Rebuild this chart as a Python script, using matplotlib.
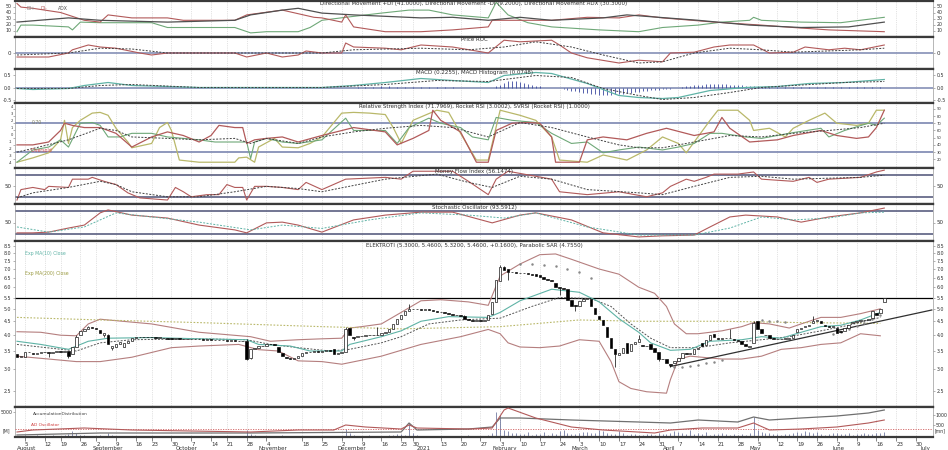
import numpy as np
import pandas as pd
import matplotlib
matplotlib.use("Agg")
import matplotlib.pyplot as plt
from matplotlib.ticker import FixedLocator, FixedFormatter, NullLocator
import matplotlib.transforms as mtransforms

plt.rcParams['font.family'] = ['DejaVu Sans']

# ---------------- data ----------------
# weekdays without a session in the chart (holidays and days without trades)
no_session = ['2020-08-17', '2020-08-27', '2020-09-21', '2020-10-19', '2020-11-11', '2020-12-24',
              '2020-12-25', '2020-12-31', '2021-01-01', '2021-01-06']
all_days = pd.bdate_range('2020-08-03', '2021-07-07')
all_days = all_days[~all_days.isin(pd.to_datetime(no_session))]

opens = [3.40, 3.32, 3.34, 3.48, 3.45, 3.40, 3.44, 3.46, 3.47, 3.44, 3.46, 3.50, 3.48, 3.50, 3.40, 3.62,
         4.00, 4.15, 4.22, 4.28, 4.25, 4.18, 4.02, 4.00, 3.58, 3.62, 3.70, 3.62, 3.74, 3.82, 3.92,
         3.95, 3.94, 3.95, 3.93, 3.94, 3.92, 3.92, 3.90, 3.89, 3.88, 3.90, 3.88, 3.87, 3.88, 3.86,
         3.87, 3.86, 3.85, 3.86, 3.84, 3.85, 3.83, 3.84, 3.82, 3.83, 3.82, 3.80,
         3.80, 3.30, 3.55, 3.60, 3.64, 3.66, 3.70, 3.72, 3.62, 3.45, 3.34, 3.30, 3.26, 3.30, 3.36, 3.44,
         3.48, 3.47, 3.49, 3.48, 3.50, 3.52, 3.56, 3.42, 3.45, 3.48, 4.25, 3.95,
         3.94, 3.96, 3.98, 4.00, 3.99, 4.01, 4.02, 4.08, 4.12, 4.22, 4.40, 4.58, 4.75, 4.92, 5.00, 4.98,
         5.00, 4.96, 4.98, 4.95, 4.90, 4.88, 4.86, 4.82, 4.80, 4.76, 4.74, 4.72, 4.58, 4.56, 4.52, 4.54,
         4.50, 4.55, 4.78, 5.30, 6.35, 7.10, 7.00, 6.80, 6.85, 6.78, 6.75, 6.78, 6.72,
         6.70, 6.64, 6.52, 6.45, 6.40, 6.22, 6.02, 5.96, 5.90, 5.40, 5.15, 5.12, 5.32, 5.45, 5.42, 5.05,
         4.72, 4.55, 4.30, 3.90, 3.55, 3.38, 3.45, 3.75, 3.50, 3.70, 3.78, 3.68, 3.64, 3.72, 3.58, 3.46,
         3.28, 3.28, 3.14, 3.15, 3.22, 3.30, 3.45, 3.42, 3.42, 3.55, 3.75, 3.68, 3.85, 4.05, 3.92, 3.88,
         3.92, 3.90, 3.88, 3.85, 3.82, 3.72, 3.62, 3.75, 4.50, 4.20, 4.02, 4.00, 3.92, 3.88, 3.86, 3.88,
         3.88, 3.92, 4.10, 4.20, 4.28, 4.32, 4.42, 4.50, 4.52, 4.36, 4.32, 4.30, 4.26, 4.16, 4.15, 4.25,
         4.42, 4.46, 4.52, 4.55, 4.56, 4.62, 4.82, 4.82, 5.30]
closes = [3.32, 3.35, 3.48, 3.46, 3.40, 3.44, 3.46, 3.47, 3.44, 3.46, 3.50, 3.48, 3.50, 3.36, 3.62, 3.95,
          4.15, 4.22, 4.28, 4.24, 4.20, 4.08, 4.06, 3.70, 3.66, 3.72, 3.78, 3.74, 3.82, 3.92, 3.95,
          3.94, 3.95, 3.93, 3.94, 3.92, 3.93, 3.90, 3.89, 3.88, 3.90, 3.88, 3.87, 3.88, 3.86, 3.87,
          3.86, 3.85, 3.86, 3.84, 3.85, 3.83, 3.84, 3.82, 3.83, 3.82, 3.80, 3.82,
          3.26, 3.55, 3.60, 3.64, 3.66, 3.70, 3.72, 3.68, 3.48, 3.36, 3.30, 3.26, 3.30, 3.36, 3.44, 3.48,
          3.47, 3.49, 3.48, 3.50, 3.52, 3.50, 3.42, 3.45, 3.47, 4.22, 4.00, 3.92,
          3.96, 3.98, 4.00, 3.99, 4.01, 4.00, 4.08, 4.12, 4.22, 4.40, 4.58, 4.75, 4.92, 5.00, 4.98, 5.00,
          4.96, 4.98, 4.95, 4.90, 4.88, 4.86, 4.82, 4.80, 4.76, 4.74, 4.70, 4.58, 4.56, 4.52, 4.54, 4.50,
          4.55, 4.76, 5.30, 6.40, 7.10, 6.95, 6.80, 6.85, 6.78, 6.75, 6.78, 6.72, 6.68,
          6.62, 6.52, 6.45, 6.40, 6.32, 6.02, 5.96, 5.90, 5.40, 5.12, 5.10, 5.32, 5.45, 5.48, 5.10, 4.80,
          4.60, 4.35, 3.95, 3.60, 3.40, 3.45, 3.58, 3.45, 3.70, 3.78, 3.86, 3.64, 3.66, 3.56, 3.46, 3.28,
          3.26, 3.15, 3.10, 3.22, 3.30, 3.45, 3.42, 3.45, 3.55, 3.60, 3.65, 3.85, 4.02, 3.95, 3.88, 3.92,
          3.90, 3.92, 3.85, 3.82, 3.72, 3.65, 3.64, 4.45, 4.22, 4.06, 3.99, 3.92, 3.88, 3.86, 3.88, 3.89,
          3.92, 4.02, 4.20, 4.26, 4.32, 4.36, 4.50, 4.56, 4.42, 4.32, 4.30, 4.34, 4.06, 4.10, 4.25, 4.36,
          4.46, 4.50, 4.55, 4.56, 4.60, 4.90, 4.76, 5.00, 5.46]
wick_hi = {15: 4.02, 18: 4.32, 23: 4.05, 58: 3.86, 83: 4.30, 91: 4.30, 99: 5.20, 113: 4.75,
           122: 7.25, 123: 7.20, 157: 4.00, 180: 4.20, 186: 4.52, 201: 4.70}
wick_lo = {8: 3.32, 13: 3.30, 22: 3.95, 24: 3.52, 58: 3.24, 59: 3.26, 85: 3.85, 124: 6.40,
           137: 5.60, 141: 4.90, 151: 3.05, 162: 3.22, 165: 3.05}

volume = [300, 200, 400, 250, 300, 500, 200, 300, 250, 400, 300, 200, 350, 600, 1200, 900, 500, 400, 300, 250, 300,
          400, 300, 800, 500, 300, 250, 300, 200, 250, 300, 200, 150, 200, 250, 200, 300, 150, 200, 250, 200, 150, 200,
          150, 200, 150, 250, 200, 150, 200, 150, 100, 200, 150, 200, 250, 150, 200, 1400, 600, 400, 300, 250, 300, 200,
          250, 300, 500, 300, 200, 250, 300, 200, 150, 200, 250, 300, 200, 250, 300, 200, 300, 250, 1600, 900,
          400, 300, 250, 300, 400, 300, 250, 200, 300, 400, 500, 600, 700, 500, 2800, 800, 400, 300, 250, 300,
          250, 300, 200, 250, 300, 200, 250, 300, 200, 350, 300, 250, 300, 250, 400, 900, 5000, 4500, 1400,
          1200, 900, 800, 700, 600, 1100, 500, 600, 700, 1000, 500, 800, 600, 1200, 1400, 900, 700, 600, 800, 1000,
          1100, 900, 800, 1400, 1200, 900, 700, 600, 1200, 800, 500, 600, 700, 500, 400, 600, 700, 500, 800, 600, 700, 900, 1200,
          1000, 800, 600, 1400, 700, 800, 600, 1000, 500, 600, 700, 800, 600, 500, 700, 400, 600, 500, 800, 4000,
          1500, 1000, 900, 800, 700, 600, 500, 700, 600, 900, 1000, 800, 1200, 1100, 900, 1000, 600, 500, 700, 800,
          900, 700, 600, 800, 500, 700, 600, 900, 600, 700, 800, 900, 1000]

# overlays on price (session index, value)
bb_up_i = [0, 6, 11, 15, 18, 21, 23, 34, 46, 59, 64, 71, 77, 82, 84, 87, 92, 97, 102, 107, 114, 119, 122, 127, 132,
           136, 140, 147, 152, 157, 161, 164, 166, 169, 172, 178, 183, 186, 190, 195, 198, 203, 208, 213, 218]
bb_up_v = [4.12, 4.10, 4.00, 3.98, 4.40, 4.58, 4.55, 4.40, 4.10, 3.95, 3.80, 3.85, 3.88, 3.90, 4.25, 4.30, 4.40,
           4.85, 5.35, 5.40, 5.30, 5.15, 6.60, 7.30, 7.90, 7.95, 7.60, 7.00, 6.70, 6.00, 5.70, 5.10, 4.40, 4.05,
           4.05, 4.15, 4.30, 4.45, 4.40, 4.25, 4.40, 4.65, 4.65, 4.80, 5.00]
bb_lo_i = [0, 8, 15, 21, 29, 39, 46, 56, 61, 66, 71, 77, 82, 92, 102, 112, 119, 122, 124, 127, 132, 137, 142, 147,
           150, 152, 155, 159, 164, 165, 167, 170, 178, 183, 188, 193, 198, 203, 208, 213, 218]
bb_lo_v = [3.35, 3.27, 3.20, 3.20, 3.32, 3.60, 3.65, 3.70, 3.54, 3.50, 3.22, 3.20, 3.13, 3.35, 3.70, 3.95, 4.20,
           4.05, 3.75, 3.62, 3.60, 3.65, 3.85, 3.80, 3.20, 2.70, 2.55, 2.48, 2.45, 2.75, 3.27, 3.35, 3.27, 3.27,
           3.35, 3.55, 3.60, 3.70, 3.75, 4.05, 3.98]
ema_i = [0, 6, 13, 18, 23, 34, 46, 58, 61, 69, 74, 82, 84, 92, 97, 102, 109, 119, 122, 127, 135, 142, 147, 152,
         157, 160, 165, 170, 175, 183, 188, 193, 198, 203, 208, 213, 218]
ema_v = [3.80, 3.70, 3.55, 3.80, 3.90, 3.92, 3.88, 3.85, 3.70, 3.65, 3.50, 3.50, 3.70, 3.95, 4.15, 4.50, 4.68,
         4.65, 4.85, 5.35, 5.90, 5.75, 5.30, 4.60, 4.10, 3.75, 3.52, 3.55, 3.80, 3.85, 3.95, 3.90, 4.10, 4.30,
         4.35, 4.55, 4.85]
mid_i = [0, 15, 21, 29, 46, 58, 64, 71, 79, 84, 92, 97, 104, 112, 119, 122, 130, 137, 145, 150, 155, 160, 165,
         172, 180, 188, 195, 203, 210, 218]
mid_v = [3.70, 3.50, 3.75, 3.85, 3.88, 3.85, 3.70, 3.60, 3.50, 3.55, 3.75, 3.95, 4.40, 4.55, 4.60, 4.62, 5.10,
         5.50, 5.45, 5.10, 4.40, 3.90, 3.60, 3.60, 3.75, 3.85, 3.95, 4.15, 4.35, 4.65]
long_i = [0, 21, 46, 77, 97, 122, 142, 157, 178, 198, 218]
long_v = [4.65, 4.55, 4.45, 4.30, 4.22, 4.30, 4.55, 4.50, 4.50, 4.45, 4.42]
sar_i = [127, 130, 133, 136, 139, 142, 145, 166, 168, 170, 172, 174, 176, 178, 188, 190, 192, 194,
         206, 208, 210, 212, 214, 216, 218]
sar_v = [7.30, 7.28, 7.25, 7.15, 7.00, 6.80, 6.50, 3.05, 3.06, 3.08, 3.12, 3.16, 3.20, 3.25, 4.55, 4.52, 4.50,
         4.48, 4.05, 4.10, 4.20, 4.32, 4.45, 4.60, 4.75]
trend_i = [165, 231]
trend_v = [3.07, 4.95]
resist_level = 5.5

# DMI
pdi_i = [0, 1, 4, 13, 14, 16, 21, 34, 38, 55, 59, 63, 71, 74, 77, 83, 92, 99, 104, 110, 119, 121, 124, 129, 135,
         147, 157, 163, 172, 178, 185, 186, 188, 198, 208, 219]
pdi_v = [8, 19, 19, 16, 11, 24, 23, 23, 15, 15, 6, 8, 8, 15, 27, 32, 39, 44, 44, 36, 31, 57, 36, 23, 16, 11, 8,
         15, 19, 24, 27, 32, 27, 24, 23, 32]
mdi_i = [0, 1, 4, 11, 17, 21, 23, 29, 38, 42, 55, 58, 67, 75, 77, 82, 83, 85, 93, 102, 110, 119, 120, 127, 135,
         144, 152, 157, 163, 176, 188, 196, 205, 219]
mdi_v = [55, 49, 47, 40, 27, 24, 36, 31, 31, 27, 27, 36, 44, 32, 31, 24, 36, 16, 8, 8, 11, 16, 27, 27, 27, 32,
         31, 36, 31, 24, 19, 15, 11, 8]
adx_i = [0, 13, 21, 38, 55, 59, 67, 71, 77, 85, 102, 110, 119, 127, 135, 148, 154, 172, 185, 198, 210, 219]
adx_v = [24, 31, 27, 24, 27, 36, 44, 47, 39, 36, 31, 32, 27, 32, 27, 31, 36, 27, 19, 15, 16, 24]

# Price ROC
roc_i = [0, 8, 13, 14, 18, 21, 25, 31, 34, 38, 55, 58, 63, 67, 71, 73, 77, 82, 83, 85, 93, 97, 102, 110, 119,
         120, 123, 127, 135, 137, 140, 144, 152, 157, 163, 165, 171, 176, 180, 186, 190, 196, 199, 205, 209, 213, 219]
roc_v = [-10, -10, 0, 8, 20, 15, 12, 0, -5, 0, 0, -10, 0, -10, -5, 5, 0, 0, 25, 15, 12, 8, 20, 15, 0, 8, 32,
         28, 32, 20, 0, -12, -25, -18, -22, 0, 2, 15, 20, 20, 0, 2, 15, 8, 12, 8, 20]
rocs_i = [0, 13, 21, 29, 38, 77, 85, 102, 114, 123, 131, 140, 148, 157, 163, 171, 180, 188, 196, 213, 219]
rocs_v = [-5, 0, 12, 10, 0, 0, 8, 12, 8, 15, 28, 15, -5, -25, -22, 0, 12, 8, 2, 8, 12]

# MACD
macd_i = [0, 4, 13, 17, 21, 23, 29, 38, 46, 77, 85, 93, 102, 110, 119, 123, 131, 135, 144, 152, 157, 163, 167,
          175, 184, 192, 200, 209, 219]
macd_v = [-0.04, -0.08, -0.04, 0.08, 0.16, 0.20, 0.08, 0.04, 0.0, 0.0, 0.08, 0.20, 0.36, 0.28, 0.20, 0.48, 0.60,
          0.56, 0.16, -0.32, -0.40, -0.44, -0.40, -0.12, 0.0, 0.04, 0.16, 0.20, 0.32]
macs_i = [0, 13, 21, 29, 46, 77, 93, 106, 119, 131, 140, 148, 157, 163, 171, 180, 188, 196, 209, 219]
macs_v = [-0.04, -0.04, 0.08, 0.12, 0.0, 0.0, 0.12, 0.28, 0.24, 0.48, 0.40, -0.04, -0.32, -0.48, -0.40, -0.20,
          0.0, 0.08, 0.20, 0.24]
hist_i = list(range(86, 111, 2)) + list(range(121, 133)) + list(range(138, 167)) + list(range(168, 191)) + \
    list(range(192, 220, 2))
hist_v = [0.02, 0.03, 0.04, 0.05, 0.05, 0.04, 0.04, 0.03, 0.03, 0.02, 0.02, 0.02, 0.01,
          0.05, 0.12, 0.20, 0.26, 0.28, 0.26, 0.22, 0.20, 0.16, 0.12, 0.08, 0.05,
          -0.04, -0.08, -0.12, -0.15, -0.18, -0.20, -0.22, -0.25, -0.27, -0.28, -0.30, -0.30, -0.28, -0.27,
          -0.26, -0.24, -0.22, -0.20, -0.18, -0.16, -0.14, -0.12, -0.10, -0.09, -0.08, -0.06, -0.05, -0.04, -0.03,
          0.03, 0.05, 0.07, 0.09, 0.10, 0.12, 0.13, 0.14, 0.15, 0.15, 0.14, 0.13, 0.12, 0.11, 0.10, 0.09, 0.08,
          0.07, 0.06, 0.05, 0.04, 0.03, 0.02,
          0.02, 0.02, 0.01, 0.02, 0.02, 0.03, 0.02, 0.02, 0.03, 0.03, 0.02, 0.03, 0.04, 0.04]

# RSI panel (values on the RSI scale)
svr_i = [0, 4, 8, 11, 12, 13, 14, 16, 19, 21, 23, 25, 28, 29, 34, 36, 38, 39, 41, 46, 55, 56, 58, 60, 61, 65, 67,
         71, 74, 77, 82, 85, 89, 93, 95, 97, 100, 106, 109, 112, 116, 119, 122, 127, 131, 135, 137, 144, 148, 154,
         159, 163, 167, 169, 171, 175, 177, 182, 185, 186, 190, 194, 196, 200, 204, 207, 212, 215, 217, 219]
svr_v = [16, 22, 29, 47, 74, 42, 64, 74, 84, 85, 81, 63, 44, 36, 42, 64, 71, 60, 19, 16, 16, 22, 23, 16, 37, 49,
         37, 36, 42, 51, 84, 85, 84, 82, 64, 42, 74, 88, 85, 56, 19, 19, 88, 81, 74, 51, 19, 16, 26, 19, 33, 51, 42,
         29, 44, 74, 88, 88, 74, 60, 63, 51, 63, 74, 84, 70, 67, 70, 88, 88]
rsi_i = [0, 4, 8, 11, 12, 14, 17, 21, 25, 29, 34, 38, 42, 46, 49, 51, 55, 57, 58, 60, 63, 67, 71, 77, 85, 93, 96,
         100, 104, 105, 107, 112, 116, 119, 121, 125, 129, 132, 135, 136, 142, 144, 148, 154, 159, 164, 171, 176,
         178, 180, 185, 192, 196, 203, 207, 212, 215, 217, 219]
rsi_v = [40, 40, 44, 60, 70, 67, 64, 64, 56, 37, 51, 58, 53, 44, 53, 67, 64, 64, 42, 47, 49, 51, 44, 53, 64, 58,
         40, 49, 60, 88, 74, 58, 16, 16, 60, 70, 71, 70, 51, 16, 16, 47, 51, 47, 56, 63, 53, 58, 78, 63, 44, 47, 53,
         60, 53, 49, 51, 64, 88]
rck_i = [0, 4, 8, 11, 13, 16, 19, 21, 23, 26, 29, 34, 38, 42, 46, 50, 55, 58, 59, 60, 63, 67, 71, 77, 83, 85, 93,
         96, 99, 104, 107, 112, 115, 119, 121, 125, 131, 135, 140, 144, 148, 152, 157, 163, 167, 171, 175, 178, 184,
         188, 196, 203, 205, 209, 215, 217, 219]
rck_v = [16, 33, 37, 47, 37, 70, 71, 67, 51, 51, 56, 56, 51, 49, 47, 44, 44, 44, 21, 44, 49, 44, 42, 47, 77, 60,
         60, 42, 64, 77, 70, 64, 51, 47, 78, 74, 71, 56, 42, 44, 29, 33, 37, 33, 37, 42, 56, 56, 51, 49, 57, 63, 51,
         60, 70, 67, 77]
rsis_i = [0, 4, 13, 21, 25, 29, 38, 46, 55, 59, 63, 71, 77, 85, 93, 102, 110, 119, 127, 135, 144, 152, 157, 163,
          171, 180, 188, 196, 205, 213, 219]
rsis_v = [30, 35, 47, 63, 60, 51, 49, 47, 49, 42, 49, 42, 51, 58, 63, 67, 64, 51, 71, 64, 51, 40, 36, 36, 44, 53,
          51, 56, 60, 64, 70]
rocket_ticks = [-4, -3, -2, -1, 0, 1, 2, 3, 4]

# Money Flow Index
mfi_i = [0, 1, 4, 7, 8, 13, 14, 18, 19, 22, 25, 28, 31, 38, 40, 42, 44, 48, 51, 53, 55, 57, 58, 60, 63, 67, 71,
         73, 77, 83, 93, 97, 100, 110, 114, 119, 121, 124, 131, 135, 137, 144, 152, 159, 163, 165, 169, 171, 174,
         176, 182, 186, 188, 196, 200, 202, 205, 213, 217, 219]
mfi_v = [11, 40, 46, 40, 49, 46, 69, 69, 74, 63, 54, 31, 17, 11, 46, 34, 20, 26, 26, 54, 46, 46, 11, 49, 49, 46,
         40, 60, 40, 69, 74, 69, 91, 91, 63, 26, 69, 91, 77, 69, 34, 26, 34, 20, 31, 49, 69, 63, 74, 83, 83, 89, 69,
         63, 74, 60, 69, 74, 89, 94]
mfis_i = [0, 4, 13, 21, 25, 29, 38, 46, 55, 63, 71, 77, 93, 106, 114, 120, 127, 135, 144, 157, 163, 171, 180,
          188, 196, 213, 219]
mfis_v = [17, 31, 46, 63, 54, 34, 20, 20, 34, 49, 43, 34, 69, 83, 60, 46, 77, 69, 40, 31, 26, 49, 74, 77, 69,
          74, 80]

# Stochastic
sto_i = [0, 4, 8, 13, 17, 21, 23, 29, 38, 46, 55, 58, 63, 67, 71, 77, 85, 93, 102, 110, 120, 127, 131, 140, 148,
         157, 163, 171, 175, 180, 184, 192, 198, 205, 213, 219]
sto_v = [22, 22, 24, 35, 43, 76, 84, 70, 62, 43, 30, 22, 49, 51, 43, 24, 57, 70, 78, 78, 49, 70, 76, 57, 22, 11,
         14, 16, 38, 65, 70, 65, 51, 65, 76, 89]
stos_i = [0, 8, 17, 25, 34, 46, 59, 67, 77, 89, 102, 114, 123, 131, 144, 157, 171, 180, 188, 196, 205, 213, 219]
stos_v = [38, 24, 38, 76, 65, 51, 30, 43, 34, 57, 76, 70, 62, 76, 38, 16, 16, 35, 65, 57, 62, 76, 78]

# Volume-panel lines (right scale)
ado_i = [0, 4, 17, 29, 59, 71, 80, 83, 88, 97, 99, 101, 114, 120, 123, 124, 131, 140, 148, 161, 165, 173, 182,
         186, 190, 198, 207, 215, 219]
ado_v = [150, 250, 350, 250, 150, 250, 250, 500, 400, 300, 500, 350, 300, 350, 1250, 1350, 850, 400, 250, 100,
         250, 350, 350, 600, 250, 300, 400, 600, 750]
acd_i = [0, 21, 59, 97, 99, 101, 114, 120, 122, 127, 140, 157, 165, 172, 182, 186, 190, 198, 207, 215, 219]
acd_v = [0, 100, 100, 150, 600, 250, 300, 400, 850, 850, 750, 650, 600, 750, 650, 900, 750, 850, 950, 1100, 1250]

# ---------------- layout ----------------
W, H = 948, 450
fig = plt.figure(figsize=(W / 100, H / 100), dpi=100)
X0, X1 = 15, 933


def make_ax(ytop, ybot):
    return fig.add_axes([X0 / W, 1 - ybot / H, (X1 - X0) / W, (ybot - ytop) / H])


panels = {
    'dmi': (0.5, 36.5), 'roc': (37, 69), 'macd': (69, 103), 'rsi': (103, 168),
    'mfi': (168, 204), 'sto': (204, 241), 'price': (241, 407), 'vol': (407, 437)}
axes = {k: make_ax(*v) for k, v in panels.items()}

n = len(closes)
xlim = (-0.5, 231.3)
dates = all_days
wed_idx = [i for i, d in enumerate(dates) if d.weekday() == 2 and i <= 231]

FS = 4
SFS = 3.4
TXT = '#303030'
REF = '#7b86b0'
RED = '#b25a5a'
GREEN = '#6fa878'
OLIVE = '#b9b86a'
TEAL = '#5fb3a6'
DARK = '#505050'
BB = '#b57f7f'


def style(ax, yt=None, ytl=None, fs=FS, left=True, right=True):
    ax.set_xlim(*xlim)
    for s in ('top', 'bottom'):
        ax.spines[s].set_color('#3a3a3a')
        ax.spines[s].set_linewidth(1.6)
    for s in ('left', 'right'):
        ax.spines[s].set_color('#9a9a9a')
        ax.spines[s].set_linewidth(0.5)
    ax.set_xticks(wed_idx)
    ax.tick_params(axis='x', length=0, labelbottom=False)
    ax.grid(axis='x', color='#c8c8c8', lw=0.5, ls=':')
    ax.set_axisbelow(True)
    if yt is not None:
        ax.yaxis.set_major_locator(FixedLocator(yt))
        ax.yaxis.set_major_formatter(FixedFormatter(ytl if ytl else [str(t) for t in yt]))
        ax.yaxis.set_minor_locator(NullLocator())
    ax.tick_params(axis='y', labelsize=fs, labelcolor=TXT, length=1.5, width=0.4, color='#777',
                   left=True, right=True, labelleft=left, labelright=right, pad=1)


def title(ax, s):
    ax.text(0.5, 0.985, s, transform=ax.transAxes, ha='center', va='top', fontsize=FS, color=TXT)


# DMI
ax = axes['dmi']
ax.plot(pdi_i, pdi_v, color=GREEN, lw=0.8)
ax.plot(mdi_i, mdi_v, color=RED, lw=0.8)
ax.plot(adx_i, adx_v, color=DARK, lw=0.9)
ax.set_ylim(0, 60)
style(ax, [10, 20, 30, 40, 50], fs=SFS)
title(ax, 'Directional Movement +DI (41.0000), Directional Movement -DI (9.2000), Directional Movement ADX (30.3000)')
for xf, s, c in [(0.012, 'DI+', '#888888'), (0.028, 'DI-', RED), (0.047, 'ADX', DARK)]:
    ax.text(xf, 0.78, s, transform=ax.transAxes, fontsize=3.3, color=c, va='center')

# ROC
ax = axes['roc']
ax.axhline(0, color=REF, lw=1.1)
ax.plot(roc_i, roc_v, color=RED, lw=0.8)
ax.plot(rocs_i, rocs_v, color='#404040', lw=0.7, ls=(0, (2, 1.5)))
ax.set_ylim(-40, 40)
style(ax, [0])
title(ax, 'Price ROC')

# MACD
ax = axes['macd']
ax.axhline(0, color=REF, lw=1.1)
ax.vlines(hist_i, 0, hist_v, color='#3a48a0', lw=0.6)
ax.plot(macd_i, macd_v, color=TEAL, lw=0.9)
ax.plot(macs_i, macs_v, color='#404040', lw=0.7, ls=(0, (2, 1.5)))
ax.set_ylim(-0.62, 0.74)
style(ax, [-0.5, 0.0, 0.5], ['-0.5', '0.0', '0.5'], fs=SFS)
title(ax, 'MACD (0.2255), MACD Histogram (0.0748)')

# RSI  (right: RSI scale, left: Rocket RSI scale)
ax = axes['rsi']
ax.set_ylim(8, 98)
ax.axhline(70, color=REF, lw=1.2)
ax.axhline(30, color=REF, lw=1.2)
ax.plot(svr_i, svr_v, color=OLIVE, lw=0.9)
ax.plot(rck_i, rck_v, color=GREEN, lw=0.8)
ax.plot(rsi_i, rsi_v, color=RED, lw=0.9)
ax.plot(rsis_i, rsis_v, color='#404040', lw=0.7, ls=(0, (2, 1.5)))
style(ax, [20, 30, 40, 50, 60, 70, 80, 90], fs=2.7, left=False, right=True)
title(ax, 'Relative Strength Index (71.7969), Rocket RSI (3.0002), SVRSI (Rocket RSI) (1.0000)')
# Rocket RSI scale labels written on the left margin
rk_lo, rk_hi = -4.7, 4.57
ytr = mtransforms.blended_transform_factory(ax.transAxes, ax.transAxes)
for t in rocket_ticks:
    yf = (t - rk_lo) / (rk_hi - rk_lo)
    ax.text(-0.0025, yf, str(t), transform=ytr, fontsize=2.6, color=TXT, ha='right', va='center')
ax.text(0.018, 0.70, '0.70', transform=ax.transAxes, fontsize=3.3, color='#808060', va='center')
ax.text(0.014, 0.27, '- Oversold', transform=ax.transAxes, fontsize=3.3, color='#d04040', va='center')

# MFI
ax = axes['mfi']
ax.set_ylim(0, 100)
ax.axhline(80, color='#5a5f80', lw=1.2)
ax.axhline(20, color='#5a5f80', lw=1.2)
ax.plot(mfi_i, mfi_v, color=RED, lw=0.8)
ax.plot(mfis_i, mfis_v, color='#404040', lw=0.7, ls=(0, (2, 1.5)))
style(ax, [50])
title(ax, 'Money Flow Index (56.1474)')

# Stochastic
ax = axes['sto']
ax.set_ylim(0, 100)
ax.axhline(80, color='#5a5f80', lw=1.2)
ax.axhline(20, color='#5a5f80', lw=1.2)
ax.plot(sto_i, sto_v, color=RED, lw=0.8)
ax.plot(stos_i, stos_v, color=TEAL, lw=0.7, ls=(0, (2, 1.5)))
style(ax, [50])
title(ax, 'Stochastic Oscillator (93.5912)')

# Price
ax = axes['price']
ax.set_yscale('log')
ax.set_ylim(2.18, 8.87)
pt = [2.5, 3.0, 3.5, 4.0, 4.5, 5.0, 5.5, 6.0, 6.5, 7.0, 7.5, 8.0, 8.5]
style(ax, pt, ['%.1f' % v for v in pt], fs=SFS)
ax.axhline(resist_level, color='black', lw=0.9)
ax.plot(bb_up_i, bb_up_v, color=BB, lw=0.8)
ax.plot(bb_lo_i, bb_lo_v, color=BB, lw=0.8)
ax.plot(long_i, long_v, color=OLIVE, lw=0.8, ls=(0, (1.5, 1.5)))
ax.plot(mid_i, mid_v, color='#555555', lw=0.7, ls=(0, (2, 1.5)))
ax.plot(ema_i, ema_v, color=TEAL, lw=0.8)
ax.scatter(sar_i, sar_v, s=0.6, color='#888888', zorder=3)
ax.plot(trend_i, trend_v, color='#303030', lw=0.9)
o = np.array(opens)
c = np.array(closes)
xi = np.arange(n)
lo_b = np.minimum(o, c)
hi_b = np.maximum(o, c)
up = c >= o
for k in wick_hi:
    ax.vlines(k, hi_b[k], wick_hi[k], color='black', lw=0.5, zorder=4)
for k in wick_lo:
    ax.vlines(k, wick_lo[k], lo_b[k], color='black', lw=0.5, zorder=4)
hgt = np.maximum(hi_b - lo_b, 0.012)
ax.bar(xi[up], hgt[up], bottom=lo_b[up], width=0.62, color='white', edgecolor='black', lw=0.45, zorder=5)
ax.bar(xi[~up], hgt[~up], bottom=lo_b[~up], width=0.62, color='black', edgecolor='black', lw=0.45, zorder=5)
title(ax, 'ELEKTROTI (5.3000, 5.4600, 5.3200, 5.4600, +0.1600), Parabolic SAR (4.7550)')
ax.text(0.011, 0.925, 'Exp MA(10) Close', transform=ax.transAxes, fontsize=3.3, color=TEAL, va='center')
ax.text(0.011, 0.805, 'Exp MA(200) Close', transform=ax.transAxes, fontsize=3.3, color='#9a9a40', va='center')

# Volume
ax = axes['vol']
ax.set_ylim(0, 6000)
ax.vlines(xi, 0, volume, color='#56608f', lw=0.5)
style(ax, [5000], fs=SFS, right=False)
ax.tick_params(axis='y', pad=0.5)
axr = ax.twinx()
axr.set_xlim(*xlim)
axr.set_ylim(-100, 1400)
axr.axhline(280, color='#d06060', lw=0.6, ls=(0, (1.5, 1.5)))
axr.plot(acd_i, acd_v, color='#707070', lw=0.9)
axr.plot(ado_i, ado_v, color=RED, lw=0.8)
axr.yaxis.set_major_locator(FixedLocator([500, 1000]))
axr.yaxis.set_minor_locator(NullLocator())
axr.tick_params(axis='y', labelsize=SFS, labelcolor=TXT, length=1.5, width=0.4, color='#777', pad=0.5)
for s in axr.spines.values():
    s.set_visible(False)
ax.text(0.02, 0.78, 'AccumulationDistribution', transform=ax.transAxes, fontsize=3.2, color='#404040', va='center')
ax.text(0.017, 0.40, 'AD Oscillator', transform=ax.transAxes, fontsize=3.2, color='#d04040', va='center')
fig.text(3 / W, 1 - 431 / H, '[M]', fontsize=3.3, color=TXT, va='center')
fig.text(935 / W, 1 - 431 / H, '[mn]', fontsize=3.3, color=TXT, va='center')

# bottom date axis
ax.set_xticks(wed_idx)
ax.set_xticklabels([str(dates[i].day) for i in wed_idx])
ax.tick_params(axis='x', labelbottom=True, length=3, width=0.5, color='#555', labelsize=FS,
               labelcolor=TXT, pad=0.5, direction='out')
for lab in ax.get_xticklabels():
    lab.set_horizontalalignment('left')
trans = mtransforms.blended_transform_factory(ax.transData, ax.transAxes)
month_names = {8: 'August', 9: 'September', 10: 'October', 11: 'November', 12: 'December', 1: '2021',
               2: 'February', 3: 'March', 4: 'April', 5: 'May', 6: 'June', 7: 'July'}
seen = set()
for i, d in enumerate(dates):
    if i > 231:
        break
    key = (d.year, d.month)
    if key not in seen:
        seen.add(key)
        ax.text(i, -0.30, month_names[d.month], transform=trans, fontsize=FS, color=TXT, va='top', ha='left')

fig.savefig('out.png', dpi=100)
